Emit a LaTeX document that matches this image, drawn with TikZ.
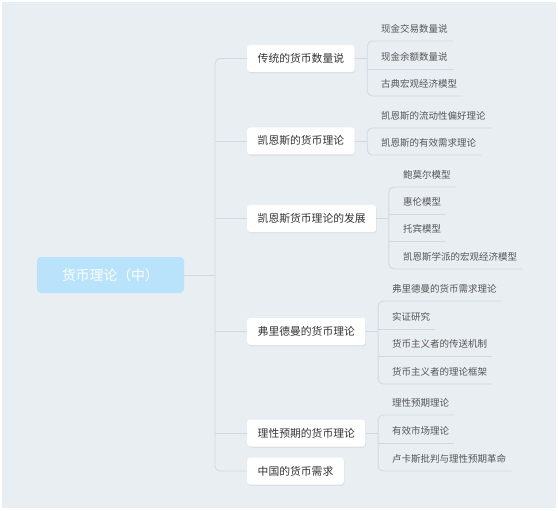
\documentclass[tikz,border=0pt]{standalone}
\usepackage{fontspec}
\newfontfamily\cjk{Noto Sans CJK SC}
\usetikzlibrary{shadows, positioning, calc}

\definecolor{bgcol}{HTML}{E9EEF3}
\definecolor{linecol}{HTML}{D1D8E0}
\definecolor{rootcol}{HTML}{B9E3FA}
\definecolor{topiccol}{HTML}{333333}
\definecolor{leafcol}{HTML}{555555}

\tikzset{
  root/.style={fill=rootcol, text=white, rounded corners=4pt, minimum width=147pt,
    minimum height=36pt, font=\cjk\fontsize{13.8pt}{16pt}\selectfont},
  topic/.style={fill=white, text=topiccol, rounded corners=3pt, anchor=west,
    minimum height=27pt, inner xsep=10.5pt, text height=9.3pt, text depth=1.3pt,
    font=\cjk\fontsize{10.8pt}{13pt}\selectfont,
    drop shadow={opacity=0.12, shadow xshift=0.6pt, shadow yshift=-1.4pt}},
  leaf/.style={text=leafcol, anchor=west, inner xsep=5pt, inner ysep=7pt,
    text height=8.4pt, text depth=1.1pt, font=\cjk\fontsize{9.5pt}{11pt}\selectfont},
  link/.style={draw=linecol, line width=0.85pt, rounded corners=5pt}
}

\begin{document}
\begin{tikzpicture}[x=1pt, y=-1pt]

      % Canvas
      \useasboundingbox (0,0) rectangle (558,511);
      \fill[white] (0,0) rectangle (558,511);
      \fill[bgcol] (2,2) rectangle (556,508);

      % Root node
      \node[root] (root) at (110.5,275) {货币理论（中）};
      \coordinate (trunk) at (215,275);

      % Main topics
      \node[topic] (p1) at (247,58.5) {传统的货币数量说};
      \node[topic] (p2) at (247,141) {凯恩斯的货币理论};
      \node[topic] (p3) at (247,218.5) {凯恩斯货币理论的发展};
      \node[topic] (p4) at (247,331.5) {弗里德曼的货币理论};
      \node[topic] (p5) at (247,433) {理性预期的货币理论};
      \node[topic] (p6) at (247,471) {中国的货币需求};

      % Trunk
      \draw[link] (root.east) -- (trunk);
      \draw[link] (p1.west) -| (trunk) |- (p6.west);
      \foreach \p in {p2,p3,p4,p5}
      \draw[link] (trunk |- \p.west) -- (\p.west);

      % Branch points
      \foreach \i in {1,...,5}
      \coordinate (b\i) at ($(p\i.east)+(12.5,0)$);

      % Subtopics of p1
      \node[leaf] (a1) at (376,29) {现金交易数量说};
      \node[leaf] (a2) at (376,57) {现金余额数量说};
      \node[leaf] (a3) at (376,84) {古典宏观经济模型};

      % Subtopics of p2
      \node[leaf] (c1) at (376,116) {凯恩斯的流动性偏好理论};
      \node[leaf] (c2) at (376,143) {凯恩斯的有效需求理论};

      % Subtopics of p3
      \node[leaf] (d1) at (398,175) {鲍莫尔模型};
      \node[leaf] (d2) at (398,202) {惠伦模型};
      \node[leaf] (d3) at (398,229) {托宾模型};
      \node[leaf] (d4) at (398,257) {凯恩斯学派的宏观经济模型};

      % Subtopics of p4
      \node[leaf] (e1) at (387,289) {弗里德曼的货币需求理论};
      \node[leaf] (e2) at (387,317) {实证研究};
      \node[leaf] (e3) at (387,344) {货币主义者的传送机制};
      \node[leaf] (e4) at (387,372) {货币主义者的理论框架};

      % Subtopics of p5
      \node[leaf] (f1) at (387,403) {理性预期理论};
      \node[leaf] (f2) at (387,431) {有效市场理论};
      \node[leaf] (f3) at (387,459) {卢卡斯批判与理性预期革命};

      % Brackets and underlines
      \draw[link] (p1.east) -- (b1);
      \draw[link] (a1.south east) -| (b1) |- (a3.south east);
      \draw[link] (b1 |- a2.south) -- (a2.south east);

      \draw[link] (p2.east) -- (b2);
      \draw[link] (c1.south east) -| (b2) |- (c2.south east);

      \draw[link] (p3.east) -- (b3);
      \draw[link] (d1.south east) -| (b3) |- (d4.south east);
      \foreach \n in {d2,d3}
      \draw[link] (b3 |- \n.south) -- (\n.south east);

      \draw[link] (p4.east) -- (b4);
      \draw[link] (e1.south east) -| (b4) |- (e4.south east);
      \foreach \n in {e2,e3}
      \draw[link] (b4 |- \n.south) -- (\n.south east);

      \draw[link] (p5.east) -- (b5);
      \draw[link] (f1.south east) -| (b5) |- (f3.south east);
      \draw[link] (b5 |- f2.south) -- (f2.south east);

    \end{tikzpicture}
\end{document}
